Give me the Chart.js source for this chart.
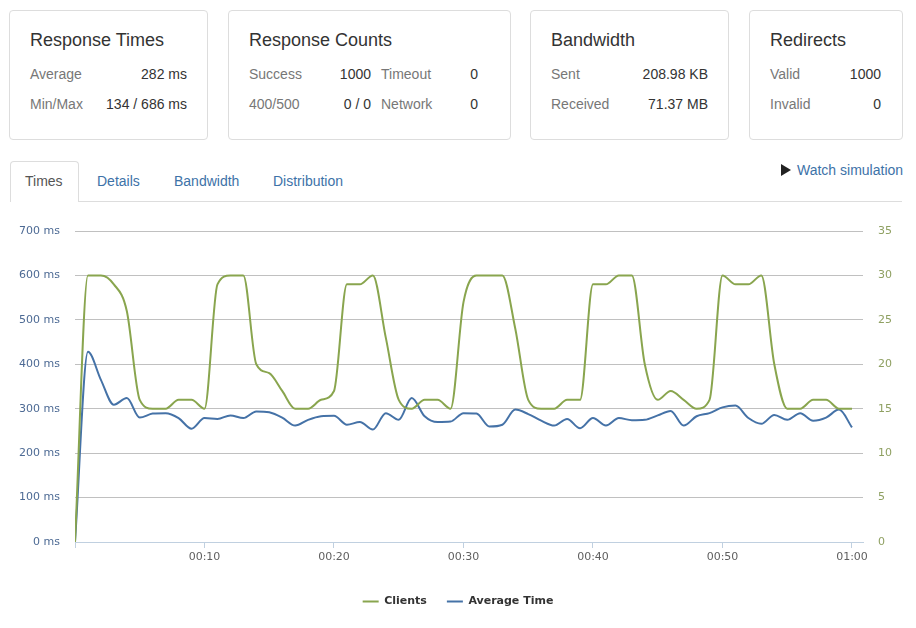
<!DOCTYPE html>
<html>
<head>
<meta charset="utf-8">
<script src="https://cdn.jsdelivr.net/npm/chart.js@4"></script>
<style>
  body { margin: 0; width: 916px; height: 628px; background: #fff; position: relative; overflow: hidden;
         font-family: "Liberation Sans", Arial, sans-serif; }
  .card { position: absolute; top: 10px; height: 130px; border: 1px solid #ddd; border-radius: 4px; box-sizing: border-box; }
  .h { position: absolute; font-size: 18px; line-height: 22px; color: #333; white-space: nowrap; }
  .l { position: absolute; font-size: 14px; line-height: 16px; color: #777; white-space: nowrap; }
  .v { position: absolute; font-size: 14px; line-height: 16px; color: #333; white-space: nowrap; text-align: right; }
  .tabline { position: absolute; left: 10px; top: 201px; width: 892px; height: 1px; background: #ddd; }
  .tab-active { position: absolute; left: 10px; top: 161px; width: 69px; height: 41px; box-sizing: border-box;
                border: 1px solid #ddd; border-bottom: none; border-radius: 4px 4px 0 0; background: #fff; }
  .tab { position: absolute; top: 173px; font-size: 14px; line-height: 16px; color: #3d72a8; white-space: nowrap; }
  .tri { position: absolute; left: 781px; top: 164px; width: 0; height: 0;
         border-top: 6px solid transparent; border-bottom: 6px solid transparent; border-left: 10px solid #222; }
  #wrap { position: absolute; left: 0; top: 215px; width: 916px; height: 413px; }
</style>
</head>
<body>
<div class="card" style="left:9px;width:199px"></div>
<div class="card" style="left:228px;width:283px"></div>
<div class="card" style="left:530px;width:199px"></div>
<div class="card" style="left:749px;width:154px"></div>

<div class="h" style="left:30px;top:29px">Response Times</div>
<div class="l" style="left:30px;top:66px">Average</div>
<div class="v" style="right:729px;top:66px">282 ms</div>
<div class="l" style="left:30px;top:96px">Min/Max</div>
<div class="v" style="right:729px;top:96px">134 / 686 ms</div>

<div class="h" style="left:249px;top:29px">Response Counts</div>
<div class="l" style="left:249px;top:66px">Success</div>
<div class="v" style="right:545px;top:66px">1000</div>
<div class="l" style="left:381px;top:66px">Timeout</div>
<div class="v" style="right:438px;top:66px">0</div>
<div class="l" style="left:249px;top:96px">400/500</div>
<div class="v" style="right:545px;top:96px">0 / 0</div>
<div class="l" style="left:381px;top:96px">Network</div>
<div class="v" style="right:438px;top:96px">0</div>

<div class="h" style="left:551px;top:29px">Bandwidth</div>
<div class="l" style="left:551px;top:66px">Sent</div>
<div class="v" style="right:208px;top:66px">208.98 KB</div>
<div class="l" style="left:551px;top:96px">Received</div>
<div class="v" style="right:208px;top:96px">71.37 MB</div>

<div class="h" style="left:770px;top:29px">Redirects</div>
<div class="l" style="left:770px;top:66px">Valid</div>
<div class="v" style="right:35px;top:66px">1000</div>
<div class="l" style="left:770px;top:96px">Invalid</div>
<div class="v" style="right:35px;top:96px">0</div>

<div class="tabline"></div>
<div class="tab-active"></div>
<div class="tab" style="left:25px;color:#555">Times</div>
<div class="tab" style="left:97px">Details</div>
<div class="tab" style="left:174px">Bandwidth</div>
<div class="tab" style="left:273px">Distribution</div>
<div class="tri"></div>
<div class="tab" style="left:797px;top:162px">Watch simulation</div>

<div id="wrap"><canvas id="timesChart"></canvas></div>

<script>
// one sample per second
const seconds = [0, 1, 2, 3, 4, 5, 6, 7, 8, 9, 10, 11, 12, 13, 14, 15, 16, 17, 18, 19, 20,
  21, 22, 23, 24, 25, 26, 27, 28, 29, 30, 31, 32, 33, 34, 35, 36, 37, 38, 39, 40,
  41, 42, 43, 44, 45, 46, 47, 48, 49, 50, 51, 52, 53, 54, 55, 56, 57, 58, 59, 60];

const clients = [0, 30, 30, 29, 26, 16, 15, 15, 16, 16, 15,
  29, 30, 30, 20, 19, 17, 15, 15, 16, 17,
  29, 29, 30, 23, 16, 15, 16, 16, 15, 27,
  30, 30, 30, 24, 16, 15, 15, 16, 16, 29,
  29, 30, 30, 20, 16, 17, 16, 15, 16, 30,
  29, 29, 30, 20, 15, 15, 16, 16, 15, 15];

const avgTime = [0, 428, 365, 309, 324, 280, 289, 290, 279, 255, 279,
  277, 285, 279, 294, 292, 280, 262, 275, 283, 284,
  264, 270, 253, 290, 275, 324, 283, 270, 271, 290,
  289, 260, 264, 298, 288, 273, 262, 277, 256, 279,
  262, 279, 274, 275, 285, 295, 262, 283, 290, 303,
  307, 279, 266, 286, 275, 290, 273, 280, 298, 258];

const xTicks = [0, 10, 20, 30, 40, 50, 60];
const xTickLabels = ["", "00:10", "00:20", "00:30", "00:40", "00:50", "01:00"];

Chart.defaults.font.family = "'DejaVu Sans', Verdana, sans-serif";
Chart.defaults.font.size = 11;

new Chart(document.getElementById("timesChart"), {
  type: "line",
  data: {
    datasets: [{
      label: "Clients",
      data: seconds.map((s, i) => ({ x: s, y: clients[i] })),
      yAxisID: "y1",
      borderColor: "#89A54E",
      backgroundColor: "#89A54E",
      borderWidth: 2,
      pointRadius: 0,
      cubicInterpolationMode: "monotone"
    }, {
      label: "Average Time",
      data: seconds.map((s, i) => ({ x: s, y: avgTime[i] })),
      yAxisID: "y",
      borderColor: "#4572A7",
      backgroundColor: "#4572A7",
      borderWidth: 2,
      pointRadius: 0,
      cubicInterpolationMode: "monotone"
    }]
  },
  options: {
    responsive: true,
    maintainAspectRatio: false,
    animation: false,
    layout: { padding: { top: 16, bottom: 11, left: 0, right: 0 } },
    plugins: {
      tooltip: { enabled: false },
      legend: {
        position: "bottom",
        labels: {
          boxWidth: 16, boxHeight: 2, padding: 20, color: "#333",
          font: { size: 11, weight: "bold" },
          // thin line swatches, no stroke around the box
          generateLabels: chart => Chart.defaults.plugins.legend.labels.generateLabels(chart)
            .map(item => Object.assign(item, { lineWidth: 0 }))
        }
      }
    },
    scales: {
      x: {
        type: "linear", min: 0, max: 60.85,
        afterBuildTicks: s => { s.ticks = xTicks.map(v => ({ value: v })); },
        afterFit: s => { s.height = 34; },
        ticks: {
          callback: (v, i) => xTickLabels[i],
          color: "#606060", padding: 3, maxRotation: 0, autoSkip: false
        },
        grid: { drawOnChartArea: false, color: "#C0D0E0", tickLength: 6 },
        border: { color: "#C0D0E0" }
      },
      y: {
        position: "left", min: 0, max: 700,
        afterFit: s => { s.width = 75; },
        ticks: { stepSize: 100, callback: v => v + " ms", color: "#4d6a94", padding: 0 },
        grid: { color: "#C0C0C0", drawTicks: true, tickLength: 15, tickColor: "rgba(0,0,0,0)" },
        border: { display: false }
      },
      y1: {
        position: "right", min: 0, max: 35,
        afterFit: s => { s.width = 53; },
        ticks: { stepSize: 5, color: "#8fa062", padding: 0 },
        grid: { drawOnChartArea: false, drawTicks: true, tickLength: 15, tickColor: "rgba(0,0,0,0)" },
        border: { display: false }
      }
    }
  }
});
</script>
</body>
</html>
